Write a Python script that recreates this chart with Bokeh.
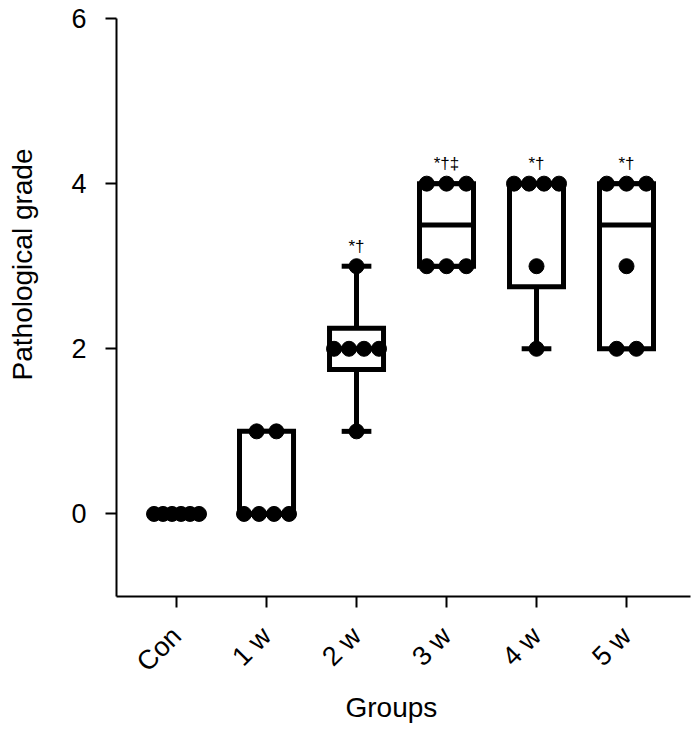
import numpy as np
from bokeh.plotting import figure
from bokeh.models import ColumnDataSource, Range1d, FixedTicker, Title, LinearAxis
from bokeh.core.properties import value
from bokeh.embed import file_html
from bokeh.resources import INLINE

# ---- data ----
groups = ["Con", "1 w", "2 w", "3 w", "4 w", "5 w"]
grade_con = [0, 0, 0, 0, 0, 0]
grade_1w = [0, 0, 0, 0, 1, 1]
grade_2w = [1, 2, 2, 2, 2, 3]
grade_3w = [3, 3, 3, 4, 4, 4]
grade_4w = [2, 3, 4, 4, 4, 4]
grade_5w = [2, 2, 3, 4, 4, 4]
marks = ["", "", "*\u2020", "*\u2020\u2021", "*\u2020", "*\u2020"]
y_ticks = [0, 2, 4, 6]
x_title = "Groups"
y_title = "Pathological grade"

all_groups = [grade_con, grade_1w, grade_2w, grade_3w, grade_4w, grade_5w]

FONT = "Liberation Sans"
BOX_HALF = 0.3
CAP_HALF = 0.165

p = figure(width=696, height=731, output_backend="svg", toolbar_location=None,
           x_range=Range1d(-0.667, 5.711), y_range=Range1d(-1, 6),
           min_border_left=116, min_border_right=6, min_border_top=18,
           min_border_bottom=135)
p.outline_line_color = None
p.xgrid.visible = False
p.ygrid.visible = False
p.background_fill_color = "white"

box = dict(left=[], right=[], bottom=[], top=[])
med = dict(x0=[], x1=[], y=[])
wh = dict(x=[], y0=[], y1=[])
cap = dict(x0=[], x1=[], y=[])
dots = dict(x=[], y=[])
ann = dict(x=[], y=[], t=[])

for i, vals in enumerate(all_groups):
    v = np.array(vals, dtype=float)
    q1, q2, q3 = np.percentile(v, [25, 50, 75], method="weibull")
    lo, hi = v.min(), v.max()
    box["left"].append(i - BOX_HALF); box["right"].append(i + BOX_HALF)
    box["bottom"].append(q1); box["top"].append(q3)
    med["x0"].append(i - BOX_HALF); med["x1"].append(i + BOX_HALF); med["y"].append(q2)
    wh["x"] += [i, i]; wh["y0"] += [q3, lo]; wh["y1"] += [hi, q1]
    cap["x0"] += [i - CAP_HALF, i - CAP_HALF]; cap["x1"] += [i + CAP_HALF, i + CAP_HALF]
    cap["y"] += [hi, lo]
    for u in np.unique(v):
        n = int((v == u).sum())
        s = 0.22 if n < 2 else min(0.22, 0.5 / (n - 1))
        offs = (np.arange(n) - (n - 1) / 2) * s
        dots["x"] += list(i + offs); dots["y"] += [u] * n
    ann["x"].append(i); ann["y"].append(hi + 0.24); ann["t"].append(marks[i])

p.segment(x0="x", y0="y0", x1="x", y1="y1", source=ColumnDataSource(wh),
          line_color="black", line_width=5)
p.segment(x0="x0", y0="y", x1="x1", y1="y", source=ColumnDataSource(cap),
          line_color="black", line_width=5)
p.quad(left="left", right="right", bottom="bottom", top="top",
       source=ColumnDataSource(box), fill_color="white", line_color="black",
       line_width=5, line_join="miter")
p.segment(x0="x0", y0="y", x1="x1", y1="y", source=ColumnDataSource(med),
          line_color="black", line_width=5)
p.scatter(x="x", y="y", source=ColumnDataSource(dots), size=15,
          fill_color="black", line_color="black")
p.text(x="x", y="y", text="t", source=ColumnDataSource(ann),
       text_font=value(FONT), text_font_size="17px", text_align="center",
       text_baseline="alphabetic", text_color="black")

for ax in (p.xaxis[0], p.yaxis[0]):
    ax.axis_line_color = "black"
    ax.axis_line_width = 2
    ax.major_tick_line_color = "black"
    ax.major_tick_line_width = 2
    ax.major_tick_out = 11
    ax.major_tick_in = 0
    ax.minor_tick_line_color = None
    ax.major_label_text_font = FONT
    ax.major_label_text_font_size = "27px"
    ax.major_label_text_color = "black"

p.yaxis.ticker = FixedTicker(ticks=y_ticks)
p.yaxis.major_label_standoff = 19

p.xaxis.ticker = FixedTicker(ticks=list(range(len(groups))))
p.xaxis.major_label_overrides = {i: g for i, g in enumerate(groups)}
p.xaxis.major_label_orientation = np.pi / 4
p.xaxis.major_label_standoff = 24

# invisible spacer axis: reserves room between the tick labels and the y title
spacer = LinearAxis(ticker=FixedTicker(ticks=[3]), major_label_overrides={3: ""},
                    axis_line_color=None, major_tick_line_color=None,
                    minor_tick_line_color=None, major_tick_out=30, major_tick_in=0,
                    major_label_standoff=0, major_label_text_alpha=0)
p.add_layout(spacer, "left")

# axis titles
p.add_layout(Title(text=y_title, align="right", offset=130, vertical_align="middle",
                   standoff=0, text_font=FONT, text_font_size="28px",
                   text_font_style="normal", text_color="black"), "left")
p.add_layout(Title(text=x_title, align="left", offset=229, vertical_align="top",
                   standoff=2, text_font=FONT, text_font_size="28px",
                   text_font_style="normal", text_color="black"), "below")

open("out.html", "w").write(file_html(p, INLINE))
